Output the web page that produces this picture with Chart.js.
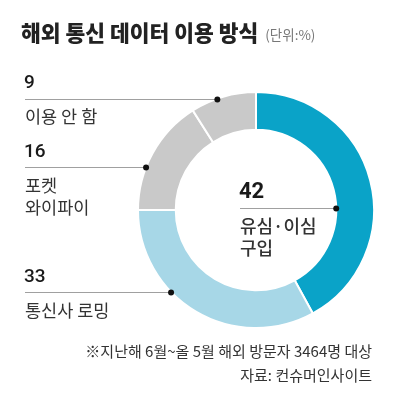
<!DOCTYPE html>
<html><head><meta charset="utf-8">
<script src="https://cdn.jsdelivr.net/npm/chart.js@4"></script>
<style>html,body{margin:0;padding:0;background:#fff;}canvas{display:block;}</style>
</head><body>
<canvas id="c" width="395" height="398"></canvas>
<script>
const categories = ['유심·이심 구입', '통신사 로밍', '포켓 와이파이', '이용 안 함'];
const values = [42, 33, 16, 9];
const labelLines = [['유심·이심', '구입'], ['통신사 로밍'], ['포켓', '와이파이'], ['이용 안 함']];
const colors = ['#0aa3c8', '#a7d7e7', '#c9c9c9', '#c9c9c9'];
const titleText = '해외 통신 데이터 이용 방식';
const unitText = '(단위:%)';
const noteLines = ['※지난해 6월~올 5월 해외 방문자 3464명 대상', '자료: 컨슈머인사이트'];

// leader anchor position within each slice (fraction of slice angle) and which edge
const anchorFrac = [0.585, 0.63, 0.37, 0.41];
const anchorInner = [true, false, false, false];
const KR = "'Noto Sans CJK KR','Noto Sans CJK SC',sans-serif";

const labelPlugin = {
  id: 'labels',
  afterDraw(chart) {
    const ctx = chart.ctx;
    const meta = chart.getDatasetMeta(0);
    ctx.save();
    // title
    ctx.textBaseline = 'middle';
    ctx.textAlign = 'left';
    ctx.fillStyle = '#222';
    ctx.font = '900 21.5px ' + KR;
    ctx.fillText(titleText, 21, 33);
    const tw = ctx.measureText(titleText).width;
    ctx.fillStyle = '#777';
    ctx.font = '13.5px ' + KR;
    ctx.fillText(unitText, 21 + tw + 7, 35);

    meta.data.forEach((arc, i) => {
      const p = arc.getProps(['x', 'y', 'startAngle', 'endAngle', 'innerRadius', 'outerRadius'], true);
      const a = p.startAngle + anchorFrac[i] * (p.endAngle - p.startAngle);
      const r = anchorInner[i] ? p.innerRadius : p.outerRadius;
      const dx = p.x + Math.cos(a) * r;
      const dy = p.y + Math.sin(a) * r;
      const x0 = anchorInner[i] ? p.x - 16 : 25;
      ctx.strokeStyle = '#a0a0a0';
      ctx.lineWidth = 1;
      ctx.beginPath();
      ctx.moveTo(x0, Math.round(dy) + 0.5);
      ctx.lineTo(dx, Math.round(dy) + 0.5);
      ctx.stroke();
      ctx.fillStyle = '#111';
      ctx.beginPath();
      ctx.arc(dx, Math.round(dy) + 0.5, 3, 0, Math.PI * 2);
      ctx.fill();
      // number
      ctx.textAlign = 'left';
      ctx.textBaseline = 'middle';
      ctx.fillStyle = '#1a1a1a';
      ctx.font = (i === 0 ? 'bold 22px ' : '500 19px ') + "Roboto, sans-serif";
      ctx.fillText(String(values[i]), x0 - 1, dy - 15);
      ctx.fillStyle = '#333';
      ctx.font = (i === 0 ? '500 18px ' : '17.5px ') + KR;
      labelLines[i].forEach((t, k) => {
        ctx.fillText(t, x0, dy + 18 + k * 22);
      });
    });

    // notes
    ctx.textAlign = 'right';
    ctx.fillStyle = '#333';
    ctx.font = '15px ' + KR;
    noteLines.forEach((t, k) => ctx.fillText(t, 372, 351 + k * 24));
    ctx.restore();
  }
};

new Chart(document.getElementById('c'), {
  type: 'doughnut',
  data: {
    labels: categories,
    datasets: [{
      data: values,
      backgroundColor: colors,
      borderColor: '#ffffff',
      borderWidth: 2,
      hoverOffset: 0
    }]
  },
  options: {
    responsive: false,
    animation: false,
    cutout: '68%',
    layout: { padding: { left: 137, right: 20, top: 91, bottom: 69 } },
    plugins: { legend: { display: false }, tooltip: { enabled: false } },
    events: []
  },
  plugins: [labelPlugin]
});
</script>
</body></html>
